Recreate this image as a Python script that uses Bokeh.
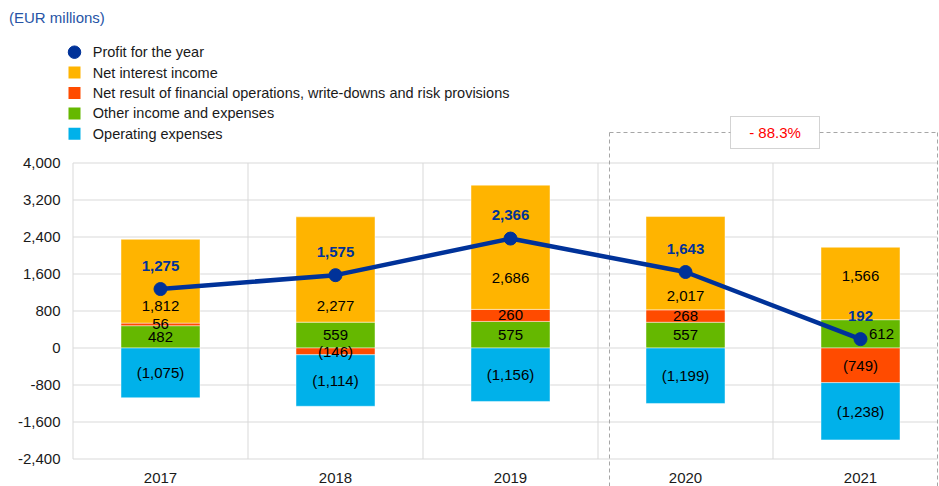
from bokeh.plotting import figure
from bokeh.models import FixedTicker, NumeralTickFormatter, Range1d, Div
from bokeh.layouts import column
from bokeh.core.properties import value
from bokeh.embed import file_html
from bokeh.resources import INLINE

# ---------------- data ----------------
years = ["2017", "2018", "2019", "2020", "2021"]
profit = [1275, 1575, 2366, 1643, 192]
net_interest = [1812, 2277, 2686, 2017, 1566]
net_result = [56, -146, 260, 268, -749]
other_income = [482, 559, 575, 557, 612]
operating_exp = [-1075, -1114, -1156, -1199, -1238]
y_ticks = [-2400, -1600, -800, 0, 800, 1600, 2400, 3200, 4000]
change_label = "- 88.3%"
unit_title = "(EUR millions)"
series_names = [
    "Profit for the year",
    "Net interest income",
    "Net result of financial operations, write-downs and risk provisions",
    "Other income and expenses",
    "Operating expenses",
]

# ---------------- styles / layout ----------------
C_NII = "#FFB400"
C_RES = "#FF4B00"
C_OTH = "#65B800"
C_OPX = "#00B1EA"
C_PROFIT = "#003299"
C_TITLE = "#2654A6"
C_GRID = "#D9D9D9"
C_BOX = "#A6A6A6"
FONT = "Liberation Sans"
FS = "15px"

PAGE_W, PAGE_H = 939, 486
HEAD_H = 36               # height of the unit-title strip above the figure
CAT_PX = 175.0            # pixels per category
X0_REF = 72.5             # page x of category axis start
Y0_REF = 347.5            # page y of value 0
UPP = 800 / 37.0          # value units per pixel


def xv(px):
    return (px - X0_REF) / CAT_PX


def yv(py):
    return (Y0_REF - py) * UPP


def fmt(v):
    return "({:,})".format(-v) if v < 0 else "{:,}".format(v)


n = len(years)
xc = [i + 0.5 for i in range(n)]

# stacking
g_bot, g_top = [], []
r_bot, r_top = [], []
o_bot, o_top = [], []
b_bot, b_top = [], []
for i in range(n):
    pos = 0.0
    neg = 0.0
    g_bot.append(pos); pos += other_income[i]; g_top.append(pos)
    if net_result[i] >= 0:
        r_bot.append(pos); pos += net_result[i]; r_top.append(pos)
    else:
        r_top.append(neg); neg += net_result[i]; r_bot.append(neg)
    o_bot.append(pos); pos += net_interest[i]; o_top.append(pos)
    b_top.append(neg); neg += operating_exp[i]; b_bot.append(neg)

p = figure(width=PAGE_W, height=PAGE_H - HEAD_H, output_backend="svg", toolbar_location=None,
           x_range=Range1d(xv(66), xv(PAGE_W)), y_range=Range1d(yv(PAGE_H), yv(HEAD_H)),
           x_axis_location=None, min_border_left=66, min_border_right=0,
           min_border_top=0, min_border_bottom=0, margin=0)
p.outline_line_color = None
p.grid.visible = False
p.background_fill_color = "white"
p.border_fill_color = "white"

yax = p.yaxis[0]
yax.ticker = FixedTicker(ticks=y_ticks)
yax.formatter = NumeralTickFormatter(format="0,0")
yax.axis_line_color = None
yax.major_tick_line_color = None
yax.minor_tick_line_color = None
yax.major_tick_out = 0
yax.major_label_standoff = 6
yax.major_label_text_font = FONT
yax.major_label_text_font_size = FS
yax.major_label_text_color = "#1A1A1A"

# grid lines
gx1 = xv(937)
p.segment(x0=[0] * len(y_ticks), x1=[gx1] * len(y_ticks), y0=y_ticks, y1=y_ticks,
          line_color=C_GRID, line_width=1)
p.segment(x0=list(range(n)), x1=list(range(n)), y0=[min(y_ticks)] * n, y1=[max(y_ticks)] * n,
          line_color=C_GRID, line_width=1)

# dashed highlight box around 2020-2021
bx0, bx1, by = xv(609), xv(937), yv(132)
p.line(x=[bx0, bx0], y=[by, yv(520)], line_color=C_BOX, line_dash="4 3", line_width=1)
p.line(x=[bx0, bx1], y=[by, by], line_color=C_BOX, line_dash="4 3", line_width=1)
p.line(x=[bx1, bx1], y=[by, yv(520)], line_color=C_BOX, line_dash="4 3", line_width=1)
p.quad(left=[xv(730)], right=[xv(819)], top=[yv(116)], bottom=[yv(148)],
       fill_color="white", line_color=C_BOX, line_dash="1 1", line_width=1)
p.text(x=[xv(774.5)], y=[by], text=[change_label], text_color="#FF0000",
       text_font=value(FONT), text_font_size=value(FS),
       text_align="center", text_baseline="middle")

# bars
BW = 79 / CAT_PX
bar_edge = dict(line_color="white", line_alpha=0.45, line_width=1)
p.vbar(x=xc, width=BW, bottom=g_bot, top=g_top, fill_color=C_OTH, **bar_edge)
p.vbar(x=xc, width=BW, bottom=r_bot, top=r_top, fill_color=C_RES, **bar_edge)
p.vbar(x=xc, width=BW, bottom=o_bot, top=o_top, fill_color=C_NII, **bar_edge)
p.vbar(x=xc, width=BW, bottom=b_bot, top=b_top, fill_color=C_OPX, **bar_edge)

# segment value labels
lab_x, lab_y, lab_t = [], [], []
green_shift_px = {4: 21}
nii_label_ref_y = [305.7, 305.0, 277.7, 295.0, 275.0]
for i in range(n):
    lab_x.append(xc[i] + green_shift_px.get(i, 0) / CAT_PX)
    lab_y.append((g_bot[i] + g_top[i]) / 2)
    lab_t.append(fmt(other_income[i]))
    lab_x.append(xc[i]); lab_y.append((r_bot[i] + r_top[i]) / 2); lab_t.append(fmt(net_result[i]))
    lab_x.append(xc[i]); lab_y.append((b_bot[i] + b_top[i]) / 2); lab_t.append(fmt(operating_exp[i]))
    lab_x.append(xc[i]); lab_y.append(yv(nii_label_ref_y[i])); lab_t.append(fmt(net_interest[i]))
p.text(x=lab_x, y=lab_y, text=lab_t, text_color="#000000",
       text_font=value(FONT), text_font_size=value(FS),
       text_align="center", text_baseline="middle")

# profit line
p.line(x=xc, y=profit, line_color=C_PROFIT, line_width=4.5)
p.scatter(x=xc, y=profit, size=13, fill_color=C_PROFIT, line_color=C_PROFIT)
p.text(x=xc, y=[v + 23.5 * UPP for v in profit], text=[fmt(v) for v in profit],
       text_color=C_PROFIT, text_font=value(FONT), text_font_size=value(FS),
       text_font_style="bold", text_align="center", text_baseline="middle")

# x category labels
p.text(x=xc, y=[yv(477.5)] * n, text=years, text_color="#1A1A1A",
       text_font=value(FONT), text_font_size=value(FS),
       text_align="center", text_baseline="middle")

# legend (manual)
rows = [51.7 + 20.4 * k for k in range(5)]
lx = xv(74)
p.scatter(x=[lx], y=[yv(rows[0])], size=12.5, fill_color=C_PROFIT, line_color=C_PROFIT)
p.scatter(x=[lx] * 4, y=[yv(r) for r in rows[1:]], marker="square", size=12,
          fill_color=[C_NII, C_RES, C_OTH, C_OPX], line_color=None)
p.text(x=[xv(92.3)] * 5, y=[yv(r) for r in rows], text=series_names, text_color="#1A1A1A",
       text_font=value(FONT), text_font_size=value("14.5px"),
       text_align="left", text_baseline="middle")

# unit title strip
head = Div(text=('<div style="position:absolute; left:9px; top:9px; margin:0; padding:0; '
                 "font-family:'Liberation Sans'; font-size:15px; line-height:18px; "
                 'white-space:nowrap; color:%s;">%s</div>' % (C_TITLE, unit_title)),
           width=PAGE_W, height=HEAD_H, margin=0)

layout = column(head, p, spacing=0, margin=0)
open("out.html", "w").write(file_html(layout, INLINE))
